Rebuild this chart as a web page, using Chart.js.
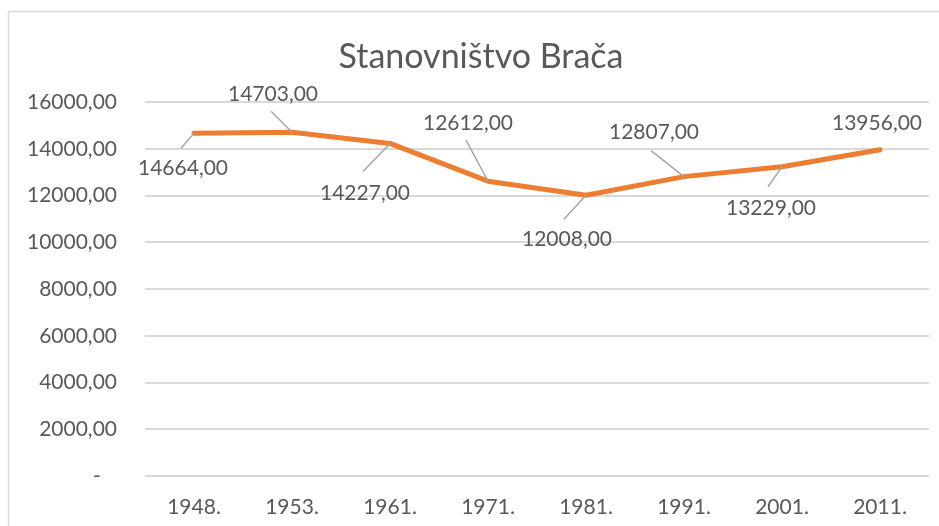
<!DOCTYPE html>
<html><head><meta charset="utf-8">
<script src="https://cdn.jsdelivr.net/npm/chart.js@4"></script>
<style>html,body{margin:0;padding:0;background:#fff}#wrap{width:939px;height:526px;position:relative}canvas{display:block}</style>
</head><body><div id="wrap"><canvas id="c" width="939" height="526" style="width:939px;height:526px"></canvas></div>
<script>
const titleText = 'Stanovništvo Brača';
const categories = ['1948.', '1953.', '1961.', '1971.', '1981.', '1991.', '2001.', '2011.'];
const population = [14664, 14703, 14227, 12612, 12008, 12807, 13229, 13956];
const yTickValues = [0, 2000, 4000, 6000, 8000, 10000, 12000, 14000, 16000];

// label placement (relative to each point), kept separate from the data
const labelOffsets = [[-11, 34], [-19, -39], [-25, 49], [-20, -59], [-19, 43], [-30, -45], [-11, 41], [-3, -27]];
const leaderStarts = [[-13, 15], [-21, -21], [-27, 28], [-22, -41], [-22, 24], [-33, -26], [-14, 20], null];

const TEXT = '#595959';
const FONT = 'Lato, "Open Sans", sans-serif';

function fmt(v) {
  if (v === 0) return '-   ';
  return v.toFixed(2).replace('.', ',');
}

const framePlugin = {
  id: 'frame',
  beforeDraw(chart) {
    const ctx = chart.ctx;
    ctx.save();
    ctx.fillStyle = '#fff';
    ctx.fillRect(0, 0, chart.width, chart.height);
    ctx.strokeStyle = '#d9d9d9';
    ctx.lineWidth = 1.5;
    ctx.beginPath();
    ctx.moveTo(8.5, chart.height);
    ctx.lineTo(8.5, 11.5);
    ctx.lineTo(chart.width, 11.5);
    ctx.stroke();
    ctx.fillStyle = TEXT;
    ctx.font = '34px ' + FONT;
    ctx.textAlign = 'center';
    ctx.textBaseline = 'alphabetic';
    ctx.fillText(titleText, 481, 68);
    ctx.restore();
  }
};

const labelPlugin = {
  id: 'dataLabels',
  afterDatasetsDraw(chart) {
    const ctx = chart.ctx;
    const meta = chart.getDatasetMeta(0);
    ctx.save();
    ctx.strokeStyle = '#a6a6a6';
    ctx.lineWidth = 1.5;
    meta.data.forEach((pt, i) => {
      const ls = leaderStarts[i];
      if (ls) {
        ctx.beginPath();
        ctx.moveTo(pt.x + ls[0], pt.y + ls[1]);
        ctx.lineTo(pt.x, pt.y);
        ctx.stroke();
      }
    });
    ctx.fillStyle = TEXT;
    ctx.font = '21px ' + FONT;
    ctx.textAlign = 'center';
    ctx.textBaseline = 'alphabetic';
    meta.data.forEach((pt, i) => {
      const o = labelOffsets[i];
      ctx.fillText(fmt(population[i]), pt.x + o[0], pt.y + o[1] + 7.5);
    });
    ctx.restore();
  }
};

new Chart(document.getElementById('c'), {
  type: 'line',
  data: {
    labels: categories,
    datasets: [{
      label: titleText,
      data: population,
      borderColor: '#ED7D31',
      backgroundColor: '#ED7D31',
      borderWidth: 5,
      pointRadius: 0,
      pointHoverRadius: 0,
      tension: 0,
      borderCapStyle: 'round',
      borderJoinStyle: 'round',
      fill: false
    }]
  },
  options: {
    responsive: false,
    animation: false,
    events: [],
    layout: { padding: { left: 0, top: 102, right: 10, bottom: 0 } },
    plugins: { legend: { display: false }, title: { display: false }, tooltip: { enabled: false } },
    scales: {
      x: {
        offset: true,
        grid: { display: false, drawTicks: false },
        border: { display: false },
        ticks: { color: TEXT, font: { family: FONT, size: 21 }, padding: 19, maxRotation: 0, autoSkip: false },
        afterFit(scale) { scale.height = 50; }
      },
      y: {
        min: 0,
        max: 16000,
        afterBuildTicks(scale) { scale.ticks = yTickValues.map(v => ({ value: v })); },
        grid: { color: '#d9d9d9', lineWidth: 2, drawTicks: false },
        border: { display: false },
        ticks: { color: TEXT, font: { family: FONT, size: 21 }, padding: 28, callback: v => fmt(v) },
        afterFit(scale) { scale.width = 145; }
      }
    }
  },
  plugins: [framePlugin, labelPlugin]
});
</script>
</body></html>
